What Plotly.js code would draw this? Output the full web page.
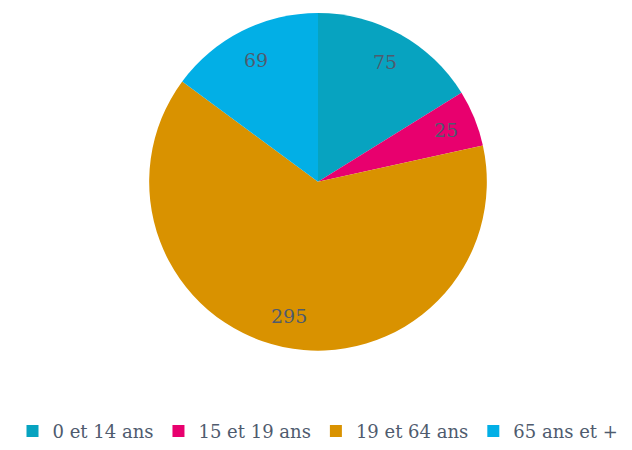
<!DOCTYPE html>
<html>
<head>
<meta charset="utf-8">
<script src="https://cdn.plot.ly/plotly-3.0.1.min.js"></script>
<style>html,body{margin:0;padding:0;background:#fff;}#chart{width:632px;height:450px;}</style>
</head>
<body>
<div id="chart"></div>
<script>
const categories = ["0 et 14 ans", "15 et 19 ans", "19 et 64 ans", "65 ans et +"];
const values = [75, 25, 295, 69];
const colors = ["#07a3c0", "#e8006e", "#d99200", "#02afe6"];

const W = 632, H = 450;
const margin = { l: 4, r: 0, t: 0, b: 0 };
const domY = [0.2156, 0.971];
const textFont = { family: "DejaVu Serif, Liberation Serif, serif", size: 19, color: "#4f5b6e" };

const trace = {
  type: "pie",
  labels: categories,
  values: values,
  sort: false,
  direction: "clockwise",
  rotation: 0,
  marker: { colors: colors, line: { width: 0 } },
  textinfo: "none",
  hoverinfo: "label+value",
  domain: { x: [0, 1], y: domY }
};

// Place value labels at ~0.81 of the radius along each slice's mid-angle (computed from the data)
const pw = W - margin.l - margin.r, ph = H - margin.t - margin.b;
const cx = pw / 2, cy = ph * (1 - (domY[0] + domY[1]) / 2);
const R = Math.min(pw, ph * (domY[1] - domY[0])) / 2;
const total = values.reduce((a, b) => a + b, 0);
let cum = 0;
const annotations = values.map((v) => {
  const mid = (cum + v / 2) / total * 2 * Math.PI;
  cum += v;
  const r = R * 0.81;
  const px = cx + r * Math.sin(mid), py = cy - r * Math.cos(mid);
  return {
    xref: "paper", yref: "paper",
    x: px / pw, y: 1 - py / ph,
    xanchor: "center", yanchor: "middle",
    text: String(v), showarrow: false, font: textFont
  };
});

const layout = {
  width: W,
  height: H,
  margin: margin,
  paper_bgcolor: "#ffffff",
  showlegend: true,
  annotations: annotations,
  legend: {
    orientation: "h",
    x: 0.5, xanchor: "center",
    y: 0.035, yanchor: "middle",
    font: { family: "DejaVu Serif, Liberation Serif, serif", size: 18, color: "#4f5b6e" },
    itemwidth: 30,
    traceorder: "normal"
  }
};

Plotly.newPlot("chart", [trace], layout, { displayModeBar: false, staticPlot: true });
</script>
</body>
</html>
